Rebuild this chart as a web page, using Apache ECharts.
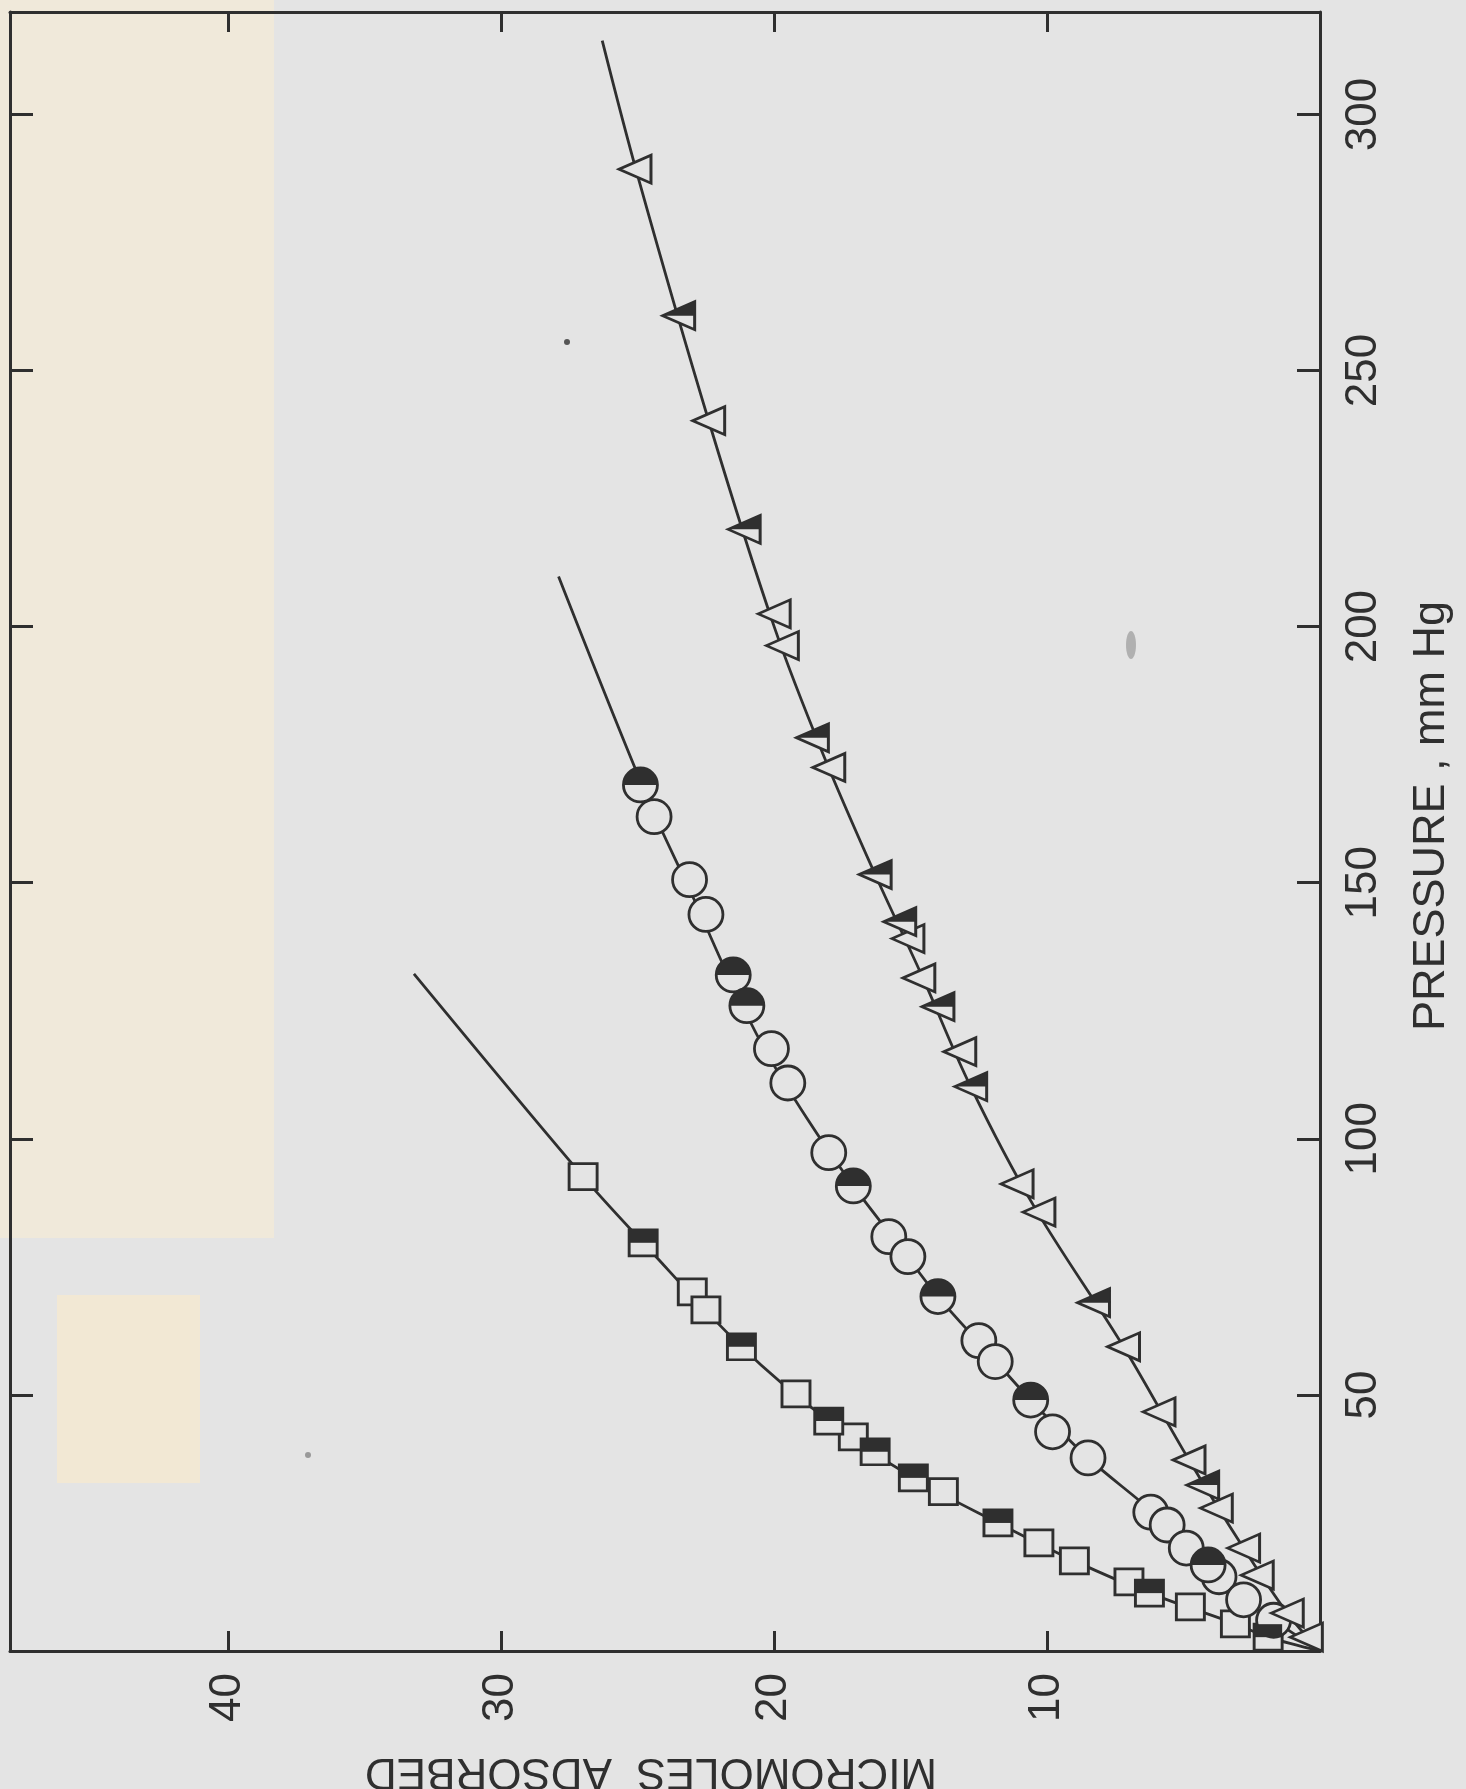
<!DOCTYPE html>
<html>
<head>
<meta charset="utf-8">
<script src="https://cdn.jsdelivr.net/npm/echarts@6.0.0/dist/echarts.min.js"></script>
<style>
  html, body { margin: 0; padding: 0; background: #e4e4e4; }
  #chart { width: 1466px; height: 1789px; }
</style>
</head>
<body>
<div id="chart"></div>
<script>
// values are [micromoles adsorbed, pressure mm Hg]
const squareOpen = [[27.0, 92.6], [23.0, 70.1], [22.5, 66.6], [19.2, 50.2], [17.1, 41.8], [13.8, 31.1],
  [10.3, 21.1], [9.0, 17.6], [7.0, 13.5], [4.75, 8.6], [3.1, 5.3]];
const squareHalf = [[24.8, 79.7], [21.2, 59.4], [18.0, 44.9], [16.3, 38.9], [14.9, 33.8], [11.8, 25.0],
  [6.25, 11.3], [1.9, 2.7]];
const circleOpen = [[24.4, 162.9], [23.1, 150.6], [22.5, 143.8], [20.1, 117.6], [19.5, 110.9], [18.0, 97.3],
  [15.8, 80.9], [15.1, 77.0], [12.5, 60.6], [11.9, 56.5], [9.8, 42.8], [8.5, 37.7], [6.2, 27.1],
  [5.6, 24.6], [4.9, 20.1], [3.7, 14.5], [2.8, 10.0], [1.7, 6.0]];
const circleHalf = [[24.9, 169.1], [21.5, 132.0], [21.0, 126.0], [17.1, 90.8], [14.0, 69.2], [10.6, 49.0],
  [4.1, 16.8]];
const triOpen = [[25.1, 289.3], [22.4, 240.2], [20.0, 202.5], [19.7, 196.3], [18.0, 172.5], [15.1, 139.1],
  [14.7, 131.4], [13.2, 117.0], [11.1, 91.2], [10.3, 85.7], [7.2, 59.4], [5.9, 46.7], [4.8, 37.3],
  [3.8, 27.9], [2.8, 20.1], [2.3, 14.8], [1.2, 7.4], [0.5, 2.7]];
const triHalf = [[23.5, 260.7], [21.1, 219.0], [18.6, 178.3], [16.3, 151.6], [15.4, 142.4], [14.0, 125.8],
  [12.8, 110.2], [8.3, 68.0], [4.3, 32.4]];

// drawn curves
const squareFit = [[0, 0], [1.9, 2.7], [3.1, 5.3], [6.25, 11.3], [9.0, 17.6], [11.8, 25.0], [14.9, 33.8],
  [18.0, 44.9], [21.2, 59.4], [24.8, 79.7], [27.0, 92.6], [33.2, 132.2]];
const circleFit = [[0, 0], [1.7, 6.0], [2.8, 10.0], [4.5, 18.0], [6.0, 26.5], [8.5, 37.7], [10.6, 49.0],
  [12.2, 58.5], [14.0, 69.2], [15.4, 79.0], [17.1, 90.8], [18.8, 104.0], [20.4, 118.0], [21.7, 132.0],
  [23.0, 147.5], [24.6, 166.0], [27.9, 209.8]];
const triFit = [[0, 0], [1.2, 7.4], [2.8, 20.1], [4.8, 37.3], [7.2, 59.4], [10.5, 87.0], [12.8, 110.2],
  [14.6, 132.0], [16.3, 151.6], [18.2, 175.0], [20.0, 200.0], [22.4, 240.2], [25.0, 288.0], [26.3, 314.4]];

const pressureTicks = [50, 100, 150, 200, 250, 300];
const moleTicks = [10, 20, 30, 40];

const INK = '#2f2f2f';
const BG = '#e4e4e4';
const FONT = 'Liberation Sans';

const halfCircle = 'path://M0,50 C0,22.4 22.4,0 50,0 C77.6,0 100,22.4 100,50 Z';
const halfTri = 'path://M0,50 L100,0 L100,50 Z';

const chart = echarts.init(document.getElementById('chart'));

function moleAxis(pos, labels) {
  return {
    type: 'value', min: 0, max: 48, inverse: true, position: pos,
    axisLine: { show: true, onZero: false, lineStyle: { color: INK, width: 3 } },
    axisTick: { show: true, inside: true, length: 20, customValues: moleTicks, lineStyle: { color: INK, width: 3 } },
    axisLabel: { show: labels, customValues: moleTicks, rotate: 90, margin: 22, fontSize: 44, fontFamily: FONT, color: INK },
    splitLine: { show: false }
  };
}
function pressureAxis(pos, labels) {
  return {
    type: 'value', min: 0, max: 320, position: pos,
    axisLine: { show: true, onZero: false, lineStyle: { color: INK, width: 3 } },
    axisTick: { show: true, inside: true, length: 23, customValues: pressureTicks, lineStyle: { color: INK, width: 3 } },
    axisLabel: { show: labels, customValues: pressureTicks, rotate: 90, margin: 22, fontSize: 44, fontFamily: FONT, color: INK },
    splitLine: { show: false }
  };
}

function fitLine(data) {
  return {
    type: 'line', data, smooth: 0.35, showSymbol: false, symbol: 'none', z: 2,
    lineStyle: { color: INK, width: 2.8 }
  };
}
function openMarks(data, symbol, size, rotate) {
  return {
    type: 'scatter', data, symbol, symbolSize: size, symbolRotate: rotate || 0, z: 3,
    itemStyle: { color: BG, borderColor: INK, borderWidth: 2.8, opacity: 1 }
  };
}
function halfMarks(data, symbol, size) {
  return {
    type: 'scatter', data, symbol, symbolSize: size, symbolOffset: [0, '-50%'], z: 4,
    itemStyle: { color: INK, borderWidth: 0, opacity: 1 }
  };
}

chart.setOption({
  backgroundColor: BG,
  animation: false,
  grid: { left: 10, right: 146, top: 12, bottom: 138, containLabel: false, outerBoundsMode: 'none' },
  xAxis: [moleAxis('bottom', true), moleAxis('top', false)],
  yAxis: [pressureAxis('right', true), pressureAxis('left', false)],
  graphic: [
    { type: 'rect', z: -10, shape: { x: 0, y: 0, width: 274, height: 1238 }, style: { fill: '#f0e9da' } },
    { type: 'rect', z: -10, shape: { x: 57, y: 1295, width: 143, height: 188 }, style: { fill: '#f2e8d4' } },
    { type: 'circle', z: -5, shape: { cx: 567, cy: 342, r: 3 }, style: { fill: '#555' } },
    { type: 'circle', z: -5, shape: { cx: 308, cy: 1455, r: 3 }, style: { fill: '#999' } },
    { type: 'ellipse', z: -5, shape: { cx: 1131, cy: 645, rx: 5, ry: 14 }, style: { fill: '#b0b0b0' } },
    {
      type: 'text', x: 1432, y: 816, rotation: Math.PI / 2,
      style: { text: 'PRESSURE , mm Hg', font: '45px "Liberation Sans"', fill: INK, align: 'center', verticalAlign: 'middle' }
    },
    {
      type: 'text', x: 651, y: 1771, rotation: Math.PI,
      style: { text: 'MICROMOLES  ADSORBED', font: '44px "Liberation Sans"', fill: INK, align: 'center', verticalAlign: 'middle' }
    }
  ],
  series: [
    fitLine(squareFit),
    fitLine(circleFit),
    fitLine(triFit),
    openMarks(squareOpen.concat(squareHalf), 'rect', [28, 26]),
    halfMarks(squareHalf, 'rect', [28, 13]),
    openMarks(circleOpen.concat(circleHalf), 'circle', 34),
    halfMarks(circleHalf, halfCircle, [34, 17]),
    openMarks(triOpen.concat(triHalf), 'triangle', [28, 32], 90),
    halfMarks(triHalf, halfTri, [32, 14])
  ]
});
</script>
</body>
</html>
